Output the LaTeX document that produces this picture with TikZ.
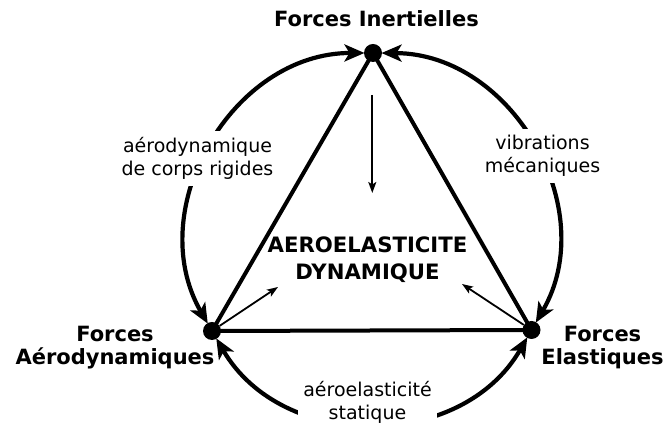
\documentclass[tikz,border=0pt]{standalone}
\usepackage{fontspec}
\setmainfont{DejaVu Sans}
\usetikzlibrary{arrows.meta}
\begin{document}
\begin{tikzpicture}[x=1pt,y=1pt,
  dot/.style={circle,fill=black,minimum size=18pt,inner sep=0pt},
  side/.style={line width=4pt,line join=round},
  arcline/.style={line width=4.2pt,{Stealth[length=20pt,width=17pt,inset=5pt]}-{Stealth[length=20pt,width=17pt,inset=5pt]},shorten <=8.5pt,shorten >=8.5pt},
  thin/.style={line width=1.8pt,-{Stealth[length=11pt,width=8pt,inset=2.5pt]}},
  lab/.style={fill=white,align=center,font=\fontsize{19}{23}\selectfont,inner xsep=5pt,inner ysep=6pt},
  force/.style={align=center,font=\fontsize{21}{23}\selectfont\bfseries},
  ]
\useasboundingbox (0,0) rectangle (665,425);
\node[dot] (T) at (373,372) {};
\node[dot] (L) at (212,94) {};
\node[dot] (R) at (531.5,95) {};
\draw[side] (T.center) -- (L.center) -- (R.center) -- cycle;
\draw[arcline] (L.center) to[bend left=60,looseness=1.12] (T.center);
\draw[arcline] (R.center) to[bend right=60,looseness=1.12] (T.center);
\draw[arcline] (L.center) to[bend right=60,looseness=1.12] (R.center);
\node[lab] (l1) at (197.5,266.5) {aérodynamique\\de corps rigides};
\node[lab] (l2) at (542.5,269) {vibrations\\mécaniques};
\node[lab] (l3) at (367.5,23) {aéroelasticité\\statique};
\node[force] (fT) at (376.5,406) {Forces Inertielles};
\node[force] (fL) at (115,77) {Forces\\Aérodynamiques};
\node[force] (fR) at (602.5,77) {Forces\\Elastiques};
\node[force,font=\fontsize{21.2}{26.5}\selectfont\bfseries] (ctr) at (367.5,165.5) {AEROELASTICITE\\DYNAMIQUE};
\coordinate (a0) at (372.3,330);
\coordinate (a1) at (372.3,232);
\coordinate (a2) at (278,138);
\coordinate (a3) at (462,141);
\draw[thin] (a0) -- (a1);
\draw[thin] (L) -- (a2);
\draw[thin] (R) -- (a3);
\end{tikzpicture}
\end{document}
